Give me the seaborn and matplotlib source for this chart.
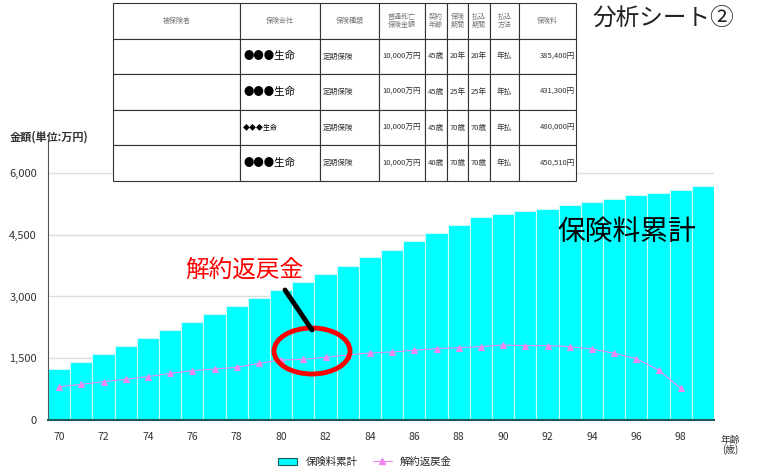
import numpy as np
import pandas as pd
import matplotlib.pyplot as plt
import seaborn as sns
from matplotlib.patches import Ellipse, Patch
from matplotlib.lines import Line2D

# ---------------------------------------------------------------------
# data (金額 単位: 万円)
# ---------------------------------------------------------------------
ages = list(range(70, 100))
premium_total = [1231, 1416, 1596, 1805, 1984, 2186, 2388, 2575, 2777, 2963,
                 3158, 3352, 3554, 3741, 3951, 4137, 4348, 4534, 4729, 4923,
                 5004, 5084, 5125, 5214, 5287, 5376, 5457, 5522, 5587, 5684]
surrender_ages = list(range(70, 99))
surrender_value = [810, 866, 931, 988, 1053, 1133, 1198, 1239, 1279, 1376,
                   1457, 1473, 1522, 1579, 1627, 1652, 1692, 1733, 1757, 1781,
                   1822, 1806, 1806, 1781, 1725, 1620, 1490, 1214, 769]
y_ticks = [0, 1500, 3000, 4500, 6000]

table_header = ['被保険者', '保険会社', '保険種類', '普通死亡\n保険金額', '契約\n年齢',
                '保険\n期間', '払込\n期間', '払込\n方法', '保険料']
table_rows = [
    ['', '●●●生命', '定期保険', '10,000万円', '45歳', '20年', '20年', '年払', '385,400円'],
    ['', '●●●生命', '定期保険', '10,000万円', '45歳', '25年', '25年', '年払', '431,300円'],
    ['', '◆◆◆生命', '定期保険', '10,000万円', '45歳', '70歳', '70歳', '年払', '480,000円'],
    ['', '●●●生命', '定期保険', '10,000万円', '40歳', '70歳', '70歳', '年払', '450,510円'],
]

df_bar = pd.DataFrame({'age': ages, 'total': premium_total})
df_line = pd.DataFrame({'age': surrender_ages, 'value': surrender_value})

BAR_COLOR = '#00ffff'
LINE_COLOR = '#ee88ee'

sns.set_style('white')
plt.rcParams['font.family'] = ['Noto Sans CJK JP', 'DejaVu Sans']

W, H = 758, 472
fig = plt.figure(figsize=(W / 100, H / 100), dpi=100)
ax = fig.add_axes([48 / W, 52 / H, 666 / W, 280 / H])

# ---------------------------------------------------------------------
# bars + line
# ---------------------------------------------------------------------
sns.barplot(data=df_bar, x='age', y='total', native_scale=True, width=1,
            color=BAR_COLOR, edgecolor='#d0fafa', linewidth=0.8,
            saturation=1, ax=ax, zorder=2)
sns.lineplot(data=df_line, x='age', y='value', color=LINE_COLOR, marker='^',
             markersize=5, markeredgecolor=LINE_COLOR, linewidth=0.8,
             ax=ax, zorder=3)

ax.set_xlim(69.5, 99.5)
ax.set_ylim(0, 6800)
ax.set_xticks(range(70, 99, 2))
ax.set_xticklabels([str(a) for a in range(70, 99, 2)], fontsize=7.5, color='#333333')
ax.set_yticks(y_ticks)
ax.set_yticklabels([f'{v:,}' for v in y_ticks], fontsize=8, color='#333333')
ax.tick_params(axis='x', length=0, pad=9)
ax.tick_params(axis='y', length=0, pad=8)
ax.set_xlabel('')
ax.set_ylabel('')
ax.yaxis.grid(True, color='#dddddd', linewidth=1, zorder=0)
ax.set_axisbelow(True)
for s in ['top', 'right']:
    ax.spines[s].set_visible(False)
ax.spines['left'].set_color('#555555')
ax.spines['bottom'].set_color('#1d5a5a')
ax.spines['bottom'].set_linewidth(1.5)

fig.text(10 / W, 1 - 137 / H, '金額(単位:万円)', fontsize=8, fontweight='bold',
         color='#333333', va='center')
fig.text(730 / W, 1 - 445 / H, '年齢\n(歳)', fontsize=7, color='#333333',
         ha='center', va='center', linespacing=1.0)

# legend
handles = [Patch(facecolor=BAR_COLOR, edgecolor='#1d5a5a', linewidth=0.8),
           Line2D([0], [0], color=LINE_COLOR, marker='^', markersize=5, linewidth=0.8)]
fig.legend(handles, ['保険料累計', '解約返戻金'], loc='center',
           bbox_to_anchor=(365 / W, 1 - 462 / H), ncol=2, frameon=False,
           fontsize=7.5, handlelength=1.8, columnspacing=1.5)

# ---------------------------------------------------------------------
# annotations
# ---------------------------------------------------------------------
fig.text(663 / W, 1 - 18 / H, '分析シート②', fontsize=17, ha='center',
         va='center', color='#222222')
fig.text(627 / W, 1 - 232 / H, '保険料累計', fontsize=20, ha='center',
         va='center', color='black')
fig.text(244 / W, 1 - 270 / H, '解約返戻金', fontsize=17, ha='center',
         va='center', color='red')
fig.add_artist(Line2D([285 / W, 312 / W], [1 - 290 / H, 1 - 330 / H],
                      transform=fig.transFigure, color='black', linewidth=3.5))
fig.add_artist(Ellipse((312 / W, 1 - 351 / H), 76 / W, 46 / H,
                       transform=fig.transFigure, fill=False,
                       edgecolor='red', linewidth=3.5))

# ---------------------------------------------------------------------
# table on top
# ---------------------------------------------------------------------
tax = fig.add_axes([113 / W, 1 - 181 / H, 463 / W, 178 / H])
tax.axis('off')
col_w = np.array([127, 80, 59, 46, 22, 21, 22, 29, 57], dtype=float)
tbl = tax.table(cellText=table_rows, colLabels=table_header,
                colWidths=list(col_w / col_w.sum()), bbox=[0, 0, 1, 1],
                cellLoc='center')
tbl.auto_set_font_size(False)
for (r, c), cell in tbl.get_celld().items():
    cell.set_edgecolor('#333333')
    cell.set_linewidth(0.8)
    cell.set_facecolor('white')
    txt = cell.get_text()
    if r == 0:
        txt.set_fontsize(5)
        txt.set_color('#777777')
        txt.set_linespacing(1.0)
    else:
        txt.set_fontsize(5.5)
        txt.set_color('#333333')
        if c == 8:
            cell.set_text_props(ha='right')
            cell.PAD = 0.02
        if c in (1, 2):
            cell.set_text_props(ha='left')
            cell.PAD = 0.04
        if c == 1:
            txt.set_fontsize(7.5 if r != 3 else 5)
            txt.set_color('black')

fig.savefig('out.png', dpi=100)
